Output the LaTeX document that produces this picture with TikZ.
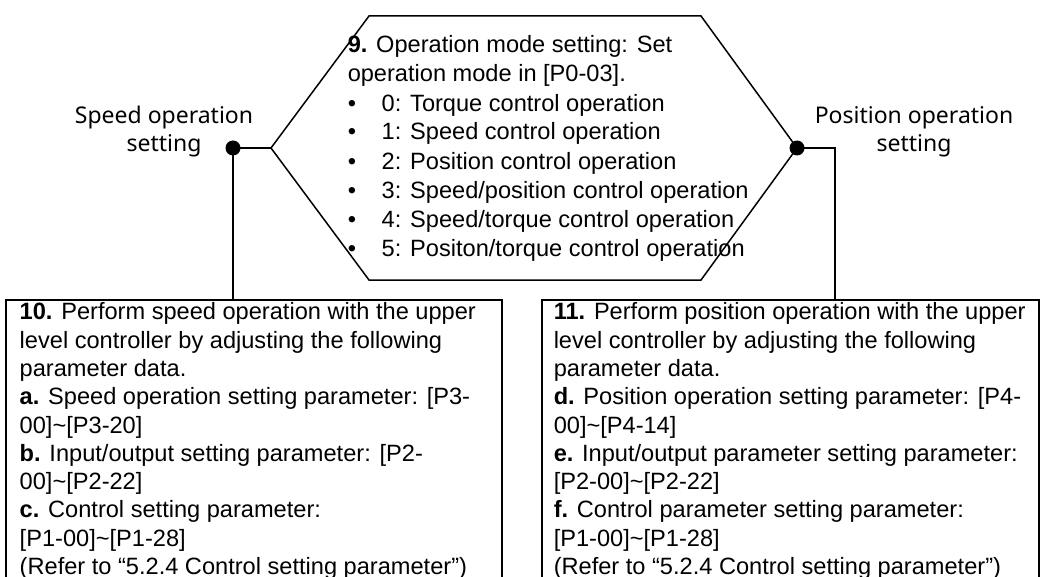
\documentclass[tikz,border=0pt]{standalone}
\usepackage{fontspec}
\setmainfont{Liberation Sans}
\newfontfamily\labelfont{Noto Sans}
\newcommand{\bul}{\makebox[34pt][l]{\textbullet}}
\begin{document}
\begin{tikzpicture}[x=1pt,y=-1pt, line width=1.5pt,
  txt/.style={font=\fontsize{23.6}{29}\selectfont, inner sep=0pt, align=left, anchor=base west},
  boxtxt/.style={txt, font=\fontsize{23.6}{28.3}\selectfont},
  lbl/.style={font=\labelfont\fontsize{23}{28}\selectfont, inner sep=0pt, align=center, anchor=base},
  dot/.style={circle, fill, inner sep=0pt, minimum size=15pt}]
\useasboundingbox (0,0) rectangle (1040,577);
% hexagon
\coordinate (h1) at (369,16);
\coordinate (h2) at (701,16);
\coordinate (h3) at (797,148);
\coordinate (h4) at (701,280);
\coordinate (h5) at (369,280);
\coordinate (h6) at (271,148);
\draw[line join=miter] (h1)--(h2)--(h3)--(h4)--(h5)--(h6)--cycle;
% multi-line nodes: base anchor = baseline of the last line
\node[txt] (mode) at (347,256) {\textbf{9.} Operation mode setting: Set\\
operation mode in [P0-03].\\
\bul 0: Torque control operation\\
\bul 1: Speed control operation\\
\bul 2: Position control operation\\
\bul 3: Speed/position control operation\\
\bul 4: Speed/torque control operation\\
\bul 5: Positon/torque control operation};
% labels
\node[lbl] (speedlbl) at (164,152) {Speed operation\\setting};
\node[lbl] (poslbl) at (914,152) {Position operation\\setting};
% dots
\node[dot] (ldot) at (233,148) {};
\node[dot] (rdot) at (797,148) {};
% boxes
\coordinate (lb1) at (6,580);
\coordinate (lb2) at (6,300);
\coordinate (lb3) at (502,300);
\coordinate (lb4) at (502,580);
\draw (lb1)--(lb2)--(lb3)--(lb4);
\coordinate (rb1) at (542,580);
\coordinate (rb2) at (542,300);
\coordinate (rb3) at (1039,300);
\coordinate (rb4) at (1039,580);
\draw (rb1)--(rb2)--(rb3)--(rb4);
\coordinate (ltop) at (233,300);
\coordinate (rcorner) at (835,148);
\coordinate (rtop) at (835,300);
% connectors
\draw (ldot.center) -- (h6);
\draw (ldot.center) -- (ltop);
\draw (rdot.center) -- (rcorner) -- (rtop);
\node[boxtxt] (speedbox) at (19,574.5) {\textbf{10.} Perform speed operation with the upper\\
level controller by adjusting the following\\
parameter data.\\
\textbf{a.} Speed operation setting parameter: [P3-\\
00]\textasciitilde[P3-20]\\
\textbf{b.} Input/output setting parameter: [P2-\\
00]\textasciitilde[P2-22]\\
\textbf{c.} Control setting parameter:\\
{[P1-00]}\textasciitilde[P1-28]\\
(Refer to “5.2.4 Control setting parameter”)};
\node[boxtxt] (posbox) at (553,574.5) {\textbf{11.} Perform position operation with the upper\\
level controller by adjusting the following\\
parameter data.\\
\textbf{d.} Position operation setting parameter: [P4-\\
00]\textasciitilde[P4-14]\\
\textbf{e.} Input/output parameter setting parameter:\\
{[P2-00]}\textasciitilde[P2-22]\\
\textbf{f.} Control parameter setting parameter:\\
{[P1-00]}\textasciitilde[P1-28]\\
(Refer to “5.2.4 Control setting parameter”)};
\end{tikzpicture}
\end{document}
